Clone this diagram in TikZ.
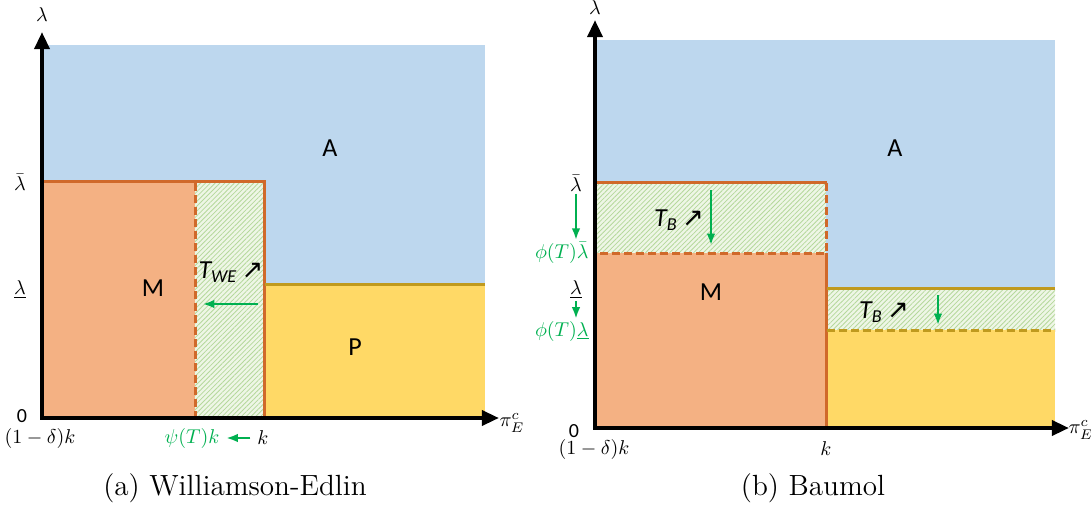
\documentclass[tikz,border=0pt]{standalone}
\usepackage{amsmath,amssymb}
\usepackage{fontspec}
\setsansfont{Carlito}
\newfontfamily\arrowfont{DejaVu Sans}
\usetikzlibrary{arrows.meta,patterns.meta}

\definecolor{skyA}{HTML}{BDD7EE}
\definecolor{salmonM}{HTML}{F4B183}
\definecolor{yellowP}{HTML}{FFD966}
\definecolor{rust}{HTML}{D0692A}
\definecolor{gold}{HTML}{C09A1E}
\definecolor{grn}{HTML}{00B050}
\definecolor{hatchbg}{HTML}{EEF6E6}
\definecolor{hatchln}{HTML}{B5D89C}

\newcommand{\upright}{{\arrowfont\fontsize{13}{15}\selectfont ↗}}

\begin{document}
\begin{tikzpicture}[x=0.5pt, y=-0.5pt, every node/.style={font=\normalsize}, >={Latex[length=2mm]},
	axis/.style={line width=2pt, line join=miter, {Triangle[length=3mm,width=2.6mm]}-{Triangle[length=3mm,width=2.6mm]}},
	hatch/.style={pattern={Lines[angle=45,distance=1.7pt,line width=0.4pt]}, pattern color=hatchln},
	mborder/.style={rust, line width=1.5pt},
	pborder/.style={gold, line width=1.5pt},
	dashline/.style={dash pattern=on 4pt off 2pt},
	garrow/.style={->, grn, line width=1pt},
	region/.style={font=\sffamily\fontsize{13}{15}\selectfont},
	caption/.style={font=\fontsize{14.6}{17}\selectfont}]
	\useasboundingbox (0,0) rectangle (1091,504);
	% (a) Williamson-Edlin
	\fill[skyA] (44,45) rectangle (485,418);
	\fill[salmonM] (44,181) rectangle (195,418);
	\fill[hatchbg] (195,181) rectangle (264,418);
	\fill[hatch] (195,181) rectangle (264,418);
	\fill[yellowP] (264,284) rectangle (485,418);
	\draw[mborder] (44,181) -| (264,418);
	\draw[mborder, dashline] (195,183) -- (195,418);
	\draw[pborder] (265,284) -- (485,284);
	\coordinate (Ya) at (42,32);
	\coordinate (Xa) at (499,418);
	\draw[axis] (Ya) |- (Xa);
	\node (lam_a) at (42,15) {$\lambda$};
	\node (lbar_a) at (20,182) {$\bar{\lambda}$};
	\node (lund_a) at (20,290) {$\underline{\lambda}$};
	\node[font=\sffamily] (zero_a) at (22,416) {0};
	\node (dk_a) at (40,438) {$(1-\delta)k$};
	\node[text=grn] (psi_a) at (192,438) {$\psi(T)k$};
	\node (k_a) at (263,438) {$k$};
	\draw[garrow] (k_a) -- (psi_a);
	\node (pi_a) at (512,423) {$\pi_E^c$};
	\node[region] (A_a) at (330,148) {A};
	\node[region] (M_a) at (153,288) {M};
	\node[region] (P_a) at (355,347) {P};
	\node[region] (T_a) at (231,272) {\itshape T\textsubscript{WE}\,\upright};
	\coordinate (s_a) at (258,304);
	\coordinate (e_a) at (203,304);
	\draw[garrow] (s_a) -- (e_a);
	\node[caption] (cap_a) at (235,488) {(a) Williamson-Edlin};
	% (b) Baumol
	\fill[skyA] (597,40) rectangle (1055,428);
	\fill[hatchbg] (597,182) rectangle (826,253);
	\fill[hatch] (597,182) rectangle (826,253);
	\fill[salmonM] (597,253) rectangle (826,428);
	\fill[hatchbg] (826,288) rectangle (1055,330);
	\fill[hatch] (826,288) rectangle (1055,330);
	\fill[yellowP] (826,330) rectangle (1055,428);
	\draw[mborder] (597,182) -- (827,182);
	\draw[mborder, dashline] (826,183) -- (826,253) -- (597,253);
	\draw[mborder] (826,253) -- (826,428);
	\draw[pborder] (827,288) -- (1055,288);
	\draw[pborder, dashline] (827,330) -- (1055,330);
	\coordinate (Yb) at (595,20);
	\coordinate (Xb) at (1069,428);
	\draw[axis] (Yb) |- (Xb);
	\node (lam_b) at (595,8) {$\lambda$};
	\node[inner sep=1pt] (lbar_b) at (576,183) {$\bar{\lambda}$};
	\node[text=grn, inner sep=1pt, anchor=east] (phib_b) at (591,253) {$\phi(T)\bar{\lambda}$};
	\draw[garrow] (lbar_b.south) -- (lbar_b.south |- phib_b.north);
	\node[inner sep=1pt] (lund_b) at (576,290) {$\underline{\lambda}$};
	\node[text=grn, inner sep=1pt, anchor=east] (phiu_b) at (591,331) {$\phi(T)\underline{\lambda}$};
	\draw[garrow] (lund_b.south) -- (lund_b.south |- phiu_b.north);
	\node[font=\sffamily] (zero_b) at (574,431) {0};
	\node (dk_b) at (594,449) {$(1-\delta)k$};
	\node (k_b) at (826,449) {$k$};
	\node (pi_b) at (1081,430) {$\pi_E^c$};
	\node[region] (A_b) at (895,148) {A};
	\node[region] (M_b) at (711,292) {M};
	\node[region] (T_b) at (679,220) {\itshape T\textsubscript{B}\,\upright};
	\node[region] (T_c) at (884,312) {\itshape T\textsubscript{B}\,\upright};
	\coordinate (s_b) at (711,190);
	\coordinate (e_b) at (711,245);
	\draw[garrow] (s_b) -- (e_b);
	\coordinate (s_c) at (938,295);
	\coordinate (e_c) at (938,325);
	\draw[garrow] (s_c) -- (e_c);
	\node[caption] (cap_b) at (813,488) {(b) Baumol};
\end{tikzpicture}
\end{document}
